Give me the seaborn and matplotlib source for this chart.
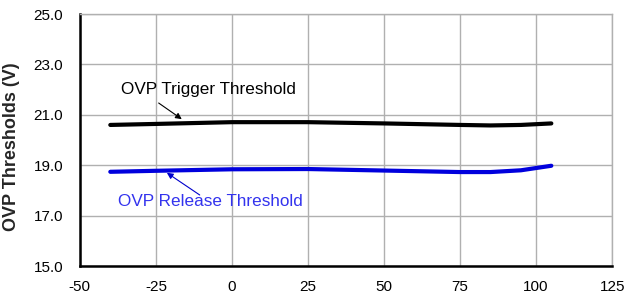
import pandas as pd
import matplotlib
matplotlib.use("Agg")
import matplotlib.pyplot as plt
import seaborn as sns

# temperature (C) and thresholds (V)
temp = [-40, -25, 0, 25, 50, 75, 85, 95, 105]
trigger_v = [20.60, 20.64, 20.71, 20.71, 20.66, 20.60, 20.58, 20.60, 20.66]
release_v = [18.74, 18.78, 18.84, 18.85, 18.79, 18.73, 18.73, 18.80, 18.98]

x_ticks = [-50, -25, 0, 25, 50, 75, 100, 125]
y_ticks = [15.0, 17.0, 19.0, 21.0, 23.0, 25.0]

df = pd.DataFrame({
    "temp": temp * 2,
    "volts": trigger_v + release_v,
    "series": ["trigger"] * len(temp) + ["release"] * len(temp),
})

sns.set_theme(style="white")
plt.rcParams['font.family'] = ['Liberation Sans', 'DejaVu Sans']

fig = plt.figure(figsize=(6.39, 2.93), dpi=100)
ax = fig.add_axes([0.125, 0.092, 0.833, 0.860])

sns.lineplot(data=df, x="temp", y="volts", hue="series",
             palette={"trigger": "#000000", "release": "#0000dd"},
             linewidth=3.0, legend=False, ax=ax)

ax.set_xlim(-50, 125)
ax.set_ylim(15, 25)
ax.set_xticks(x_ticks)
ax.set_yticks(y_ticks)
ax.set_xticklabels([str(t) for t in x_ticks], fontsize=11)
ax.set_yticklabels([f"{t:.1f}" for t in y_ticks], fontsize=11)
ax.grid(True, color="#b0b0b0", linewidth=1.0)
ax.set_xlabel("")
ax.set_ylabel("OVP Thresholds (V)", fontsize=13, fontweight="bold")
ax.yaxis.set_label_coords(-0.113, 0.475)

for side in ["top", "right"]:
    ax.spines[side].set_color("#b0b0b0")
    ax.spines[side].set_linewidth(1.0)
for side in ["left", "bottom"]:
    ax.spines[side].set_color("black")
    ax.spines[side].set_linewidth(1.8)
ax.tick_params(axis="y", direction="in", length=5, width=1, colors="black", pad=12)
ax.tick_params(axis="x", direction="in", length=5, width=1, colors="black", pad=10)

# labels and their arrows
ax.text(-36.5, 22.02, "OVP Trigger Threshold", fontsize=12.3, color="black", va="center")
ax.annotate("", xy=(-16.5, 20.83), xytext=(-24.1, 21.47),
            arrowprops=dict(arrowstyle="-|>", color="black", lw=0.8,
                            shrinkA=0, shrinkB=0, mutation_scale=9))
ax.text(-37.5, 17.55, "OVP Release Threshold", fontsize=12.3, color="#3333ee", va="center")
ax.annotate("", xy=(-21.4, 18.70), xytext=(-10.6, 17.82),
            arrowprops=dict(arrowstyle="-|>", color="#0000cc", lw=0.8,
                            shrinkA=0, shrinkB=0, mutation_scale=9))

fig.savefig("out.png", dpi=100)
